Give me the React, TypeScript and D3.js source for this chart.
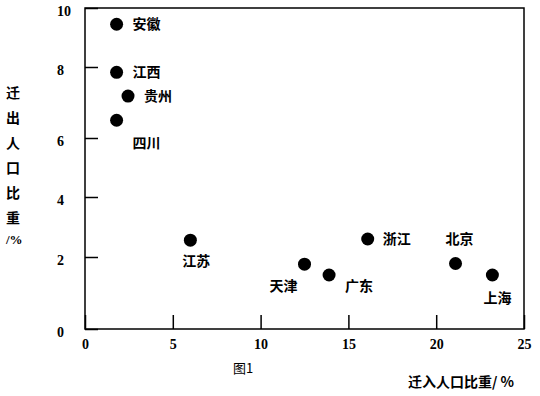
import { useRef, useEffect } from 'react'
import * as d3 from 'd3'

// 省份及迁入/迁出人口比重 (%)
const provinces = ['安徽', '江西', '贵州', '四川', '江苏', '天津', '广东', '浙江', '北京', '上海']
const inShare = [1.8, 1.8, 2.45, 1.8, 6.0, 12.5, 13.9, 16.1, 21.1, 23.2]
const outShare = [9.45, 7.85, 7.18, 6.5, 2.56, 1.8, 1.5, 2.6, 1.82, 1.5]

const xTicks = [0, 5, 10, 15, 20, 25]
const yTicks = [0, 2, 4, 6, 8, 10]
const yTitleChars = ['迁', '出', '人', '口', '比', '重']

const WIDTH = 540
const HEIGHT = 396
const CJK = '"Noto Sans CJK SC", "Noto Sans", sans-serif'
const NUM = '"Liberation Serif", "DejaVu Serif", serif'

export default function App() {
  const svgRef = useRef<SVGSVGElement>(null)

  useEffect(() => {
    if (!svgRef.current) return
    const svg = d3.select(svgRef.current)
    svg.selectAll('*').remove()

    const left = 85, right = 524, top = 8, bottom = 329

    const x = d3.scaleLinear().domain([0, 25]).range([left, right])
    // the printed y axis is spaced unevenly, so use a piecewise scale
    const y = d3.scaleLinear()
      .domain(yTicks)
      .range([bottom, 257, 197, 138, 67, top])

    // frame
    svg.append('rect')
      .attr('x', left).attr('y', top)
      .attr('width', right - left).attr('height', bottom - top)
      .attr('fill', 'none').attr('stroke', '#000').attr('stroke-width', 1.5)

    // x axis
    const gx = svg.append('g')
      .attr('transform', `translate(0,${bottom})`)
      .call(d3.axisBottom(x).tickValues(xTicks).tickSizeInner(-14).tickSizeOuter(0).tickPadding(10))
    gx.select('.domain').remove()
    gx.selectAll('line').attr('stroke-width', 1.5)
    gx.selectAll('text')
      .attr('font-family', NUM).attr('font-size', 14).attr('font-weight', 'bold')
      .attr('fill', '#000')

    // y axis
    const gy = svg.append('g')
      .attr('transform', `translate(${left},0)`)
      .call(d3.axisLeft(y).tickValues(yTicks).tickSizeInner(-13).tickSizeOuter(0))
    gy.select('.domain').remove()
    gy.selectAll('line').attr('stroke-width', 1.5)
    gy.selectAll('text')
      .attr('x', -28)
      .attr('dy', '0.5em')
      .attr('text-anchor', 'start')
      .attr('font-family', NUM).attr('font-size', 14).attr('font-weight', 'bold')
      .attr('fill', '#000')

    // label offsets relative to each dot
    const labelOffset: Record<string, [number, number]> = {
      '安徽': [16, 0], '江西': [16, 0], '贵州': [16, 0], '四川': [16, 23],
      '江苏': [-8, 21], '天津': [-35, 22], '广东': [16, 11], '浙江': [15, 0],
      '北京': [-10, -25], '上海': [-9, 23],
    }

    const pts = provinces.map((name, i) => ({ name, xi: inShare[i], yo: outShare[i] }))

    svg.append('g').selectAll('circle')
      .data(pts)
      .enter()
      .append('circle')
      .attr('cx', d => x(d.xi))
      .attr('cy', d => y(d.yo))
      .attr('r', 6.5)
      .attr('fill', '#000')

    svg.append('g').selectAll('text')
      .data(pts)
      .enter()
      .append('text')
      .attr('x', d => x(d.xi) + labelOffset[d.name][0])
      .attr('y', d => y(d.yo) + labelOffset[d.name][1])
      .attr('dy', '0.36em')
      .attr('font-family', CJK).attr('font-size', 14).attr('font-weight', 'bold')
      .attr('fill', '#000')
      .text(d => d.name)

    // y title, stacked vertically
    const yt = svg.append('g')
      .attr('font-family', CJK).attr('font-size', 14).attr('font-weight', 'bold')
    yt.selectAll('text')
      .data(yTitleChars)
      .enter()
      .append('text')
      .attr('x', 13)
      .attr('y', (_, i) => 93 + i * 25)
      .attr('dy', '0.36em')
      .attr('text-anchor', 'middle')
      .text(d => d)
    yt.append('text')
      .attr('x', 6).attr('y', 239).attr('dy', '0.36em')
      .attr('font-family', NUM).attr('font-size', 13)
      .text('/%')

    // x title
    svg.append('text')
      .attr('x', 408).attr('y', 382).attr('dy', '0.36em')
      .attr('font-family', CJK).attr('font-size', 14).attr('font-weight', 'bold')
      .text('迁入人口比重/ %')

    // caption
    svg.append('text')
      .attr('x', 233).attr('y', 368).attr('dy', '0.36em')
      .attr('font-family', CJK).attr('font-size', 13)
      .text('图1')
  }, [])

  return (
    <svg
      ref={svgRef}
      width={WIDTH}
      height={HEIGHT}
      style={{ position: 'absolute', left: 0, top: 0, background: '#fff' }}
    />
  )
}
